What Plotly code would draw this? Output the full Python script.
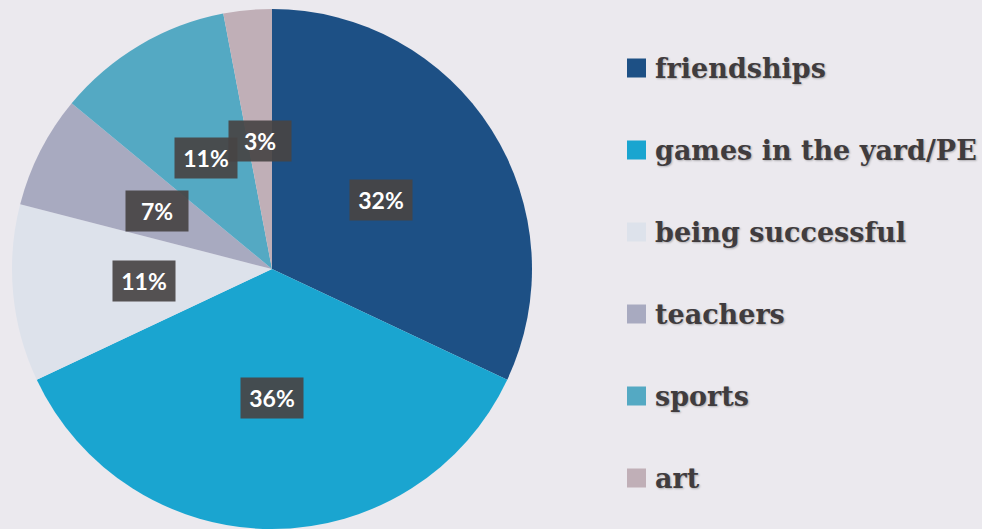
import plotly.graph_objects as go
import math

# Survey shares: what pupils like most about school
categories = ["friendships", "games in the yard/PE", "being successful",
              "teachers", "sports", "art"]
shares = [32, 36, 11, 7, 11, 3]
colors = ["#1d5085", "#1aa5d0", "#dde2eb", "#a8aac0", "#54a9c3", "#c0afb7"]

W, H = 982, 529
M_TOP = 9
PLOT_H = H - M_TOP
DOM_X = [11 / W, 533 / W]

fig = go.Figure(go.Pie(
    labels=categories,
    values=shares,
    marker=dict(colors=colors, line=dict(width=0)),
    sort=False,
    direction="clockwise",
    rotation=0,
    textinfo="none",
    hoverinfo="label+percent",
    showlegend=False,
    domain=dict(x=DOM_X, y=[0, 1]),
))

# Percentage boxes placed halfway out along each slice's mid-angle
cx_px = (DOM_X[0] + DOM_X[1]) / 2 * W
cy_px = M_TOP + PLOT_H / 2
radius_px = min((DOM_X[1] - DOM_X[0]) * W, PLOT_H) / 2
total = sum(shares)
cum = 0
annotations = []
for v in shares:
    mid = (cum + v / 2) / total * 2 * math.pi
    cum += v
    r = 0.495 * radius_px
    px = cx_px + r * math.sin(mid)
    py = cy_px - r * math.cos(mid)
    annotations.append(dict(
        x=px / W, y=(H - py) / PLOT_H, xref="paper", yref="paper",
        text=f"{round(v / total * 100)}%", showarrow=False,
        xanchor="center", yanchor="middle",
        width=60, height=38,
        bgcolor="rgba(72,68,68,0.92)",
        font=dict(family="Lato", size=23, color="#ffffff", weight="bold"),
    ))

# Legend: colour squares with bold serif captions
LEG_X0, LEG_SIZE = 627, 19
LEG_TOP, LEG_STEP = 68, 82
shapes = []
for i, (name, col) in enumerate(zip(categories, colors)):
    yc = LEG_TOP + i * LEG_STEP
    shapes.append(dict(
        type="rect", xref="paper", yref="paper",
        x0=LEG_X0 / W, x1=(LEG_X0 + LEG_SIZE) / W,
        y0=(H - (yc + LEG_SIZE / 2)) / PLOT_H, y1=(H - (yc - LEG_SIZE / 2)) / PLOT_H,
        fillcolor=col, line=dict(width=0),
    ))
    annotations.append(dict(
        x=653 / W, y=(H - yc) / PLOT_H, xref="paper", yref="paper",
        text=name, showarrow=False, xanchor="left", yanchor="middle",
        font=dict(family="DejaVu Serif", size=27, color="#403c3e", weight="bold",
                  shadow="1px 1px 2px rgba(0,0,0,0.25)"),
    ))

fig.update_layout(
    width=W, height=H,
    margin=dict(l=0, r=0, t=M_TOP, b=0),
    paper_bgcolor="#ebe9ee",
    plot_bgcolor="#ebe9ee",
    annotations=annotations,
    shapes=shapes,
)

fig.write_html("out.html")
